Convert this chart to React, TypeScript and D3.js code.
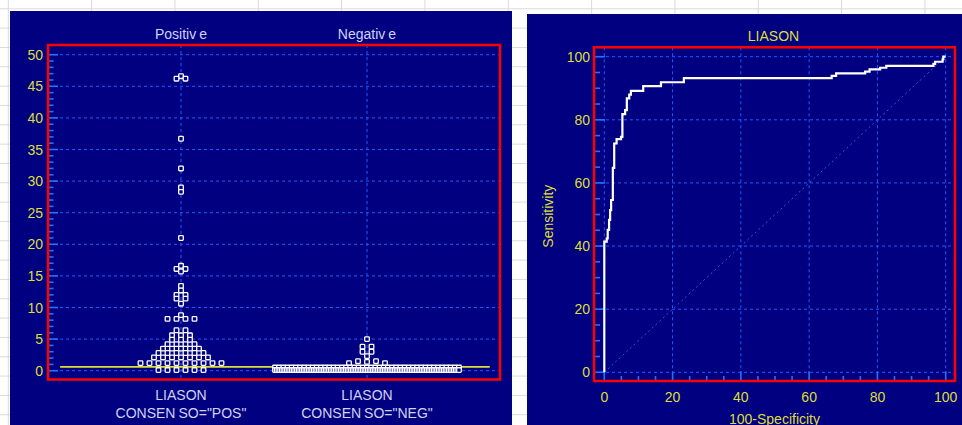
import * as d3 from 'd3'

const W = 962
const H = 425

// dot plot (left)
const groups = ['Positive', 'Negative']
const groupTests = ['LIASON', 'LIASON']
const groupCriteria = ['CONSENSO="POS"', 'CONSENSO="NEG"']
const dotTicks = [0, 5, 10, 15, 20, 25, 30, 35, 40, 45, 50]
const cutoff = 0.6

const positiveValues = [
  46.2, 46.6, 46.2, 36.7, 32.0, 29.0, 28.3, 21.0,
  16.6, 16.1, 16.1, 15.7, 13.4, 12.7, 12.0, 12.0, 11.4, 11.4, 10.6,
  8.8, 8.2, 8.2, 8.2, 8.2, 6.4, 6.4, 5.6, 5.6, 5.6, 4.9, 4.9, 4.9,
  4.2, 4.2, 4.2, 4.2, 3.5, 3.5, 3.5, 3.5, 3.5,
  2.8, 2.8, 2.8, 2.8, 2.8, 2.8, 2.1, 2.1, 2.1, 2.1, 2.1, 2.1, 2.1,
  1.2, 1.2, 1.2, 1.2, 1.2, 1.2, 1.2, 1.2, 1.2, 1.2,
  0.1, 0.1, 0.1, 0.1, 0.1, 0.1,
]

const negativeValues = [
  5.0, 3.8, 3.8, 3.0, 3.0, 2.3, 1.2, 1.5, 1.4, 1.5, 1.2,
  0.5, 0.5, 0.5, 0.5, 0.5, 0.5, 0.5, 0.5, 0.5, 0.5, 0.5, 0.5, 0.5, 0.5, 0.5,
  0.5, 0.5, 0.5, 0.5, 0.5, 0.5, 0.5, 0.5, 0.5, 0.5, 0.5, 0.5, 0.5, 0.5, 0.5,
  0.5, 0.5, 0.5, 0.5, 0.5, 0.5, 0.5, 0.5, 0.5, 0.5, 0.5, 0.5, 0.5, 0.5, 0.5,
  0.1, 0.1, 0.1, 0.1, 0.1, 0.1, 0.1, 0.1, 0.1, 0.1, 0.1, 0.1, 0.1, 0.1, 0.1,
  0.1, 0.1, 0.1, 0.1, 0.1, 0.1, 0.1, 0.1, 0.1, 0.1, 0.1, 0.1, 0.1, 0.1, 0.1,
  0.1, 0.1, 0.1, 0.1, 0.1, 0.1, 0.1, 0.1, 0.1, 0.1, 0.1, 0.1, 0.1, 0.1, 0.1,
  0.1, 0.1, 0.1, 0.1, 0.1, 0.1, 0.1, 0.1, 0.1, 0.1, 0.1, 0.1, 0.1, 0.1, 0.1,
  0.1, 0.1, 0.1, 0.1, 0.1, 0.1, 0.1, 0.1, 0.1, 0.1, 0.1, 0.1, 0.1, 0.1, 0.1,
  0.1, 0.1, 0.1, 0.1, 0.1, 0.1, 0.1, 0.1, 0.1, 0.1, 0.1, 0.1, 0.1, 0.1, 0.1,
  0.1, 0.1, 0.1, 0.1, 0.1, 0.1, 0.1, 0.1, 0.1, 0.1, 0.1, 0.1, 0.1, 0.1, 0.1,
  0.1, 0.1, 0.1, 0.1, 0.1,
]

// ROC curve (right)
const rocTitle = 'LIASON'
const rocTicks = [0, 20, 40, 60, 80, 100]
const rocFpr = [0, 0, 0.7, 1.0, 1.4, 1.7, 2.0, 2.5, 2.9, 3.6, 4.9, 5.3, 6.1, 6.6, 7.3, 7.8, 11.4, 16.6, 23.3, 66.6, 67.9, 76.4, 77.7, 80.8, 82.6, 96.4, 96.9, 99.1, 99.3, 100]
const rocTpr = [0, 41.4, 42.4, 45.1, 48.3, 51.4, 54.6, 64.8, 72.5, 73.9, 74.6, 81.8, 83.1, 86.8, 88.0, 89.2, 90.7, 91.9, 93.2, 93.9, 94.7, 95.3, 96.0, 96.5, 97.1, 97.7, 98.4, 99.2, 100, 100]

const NAVY = '#000080'
const RED = '#ff0000'
const GRID = '#1f5cff'
const TICK = '#2272ff'
const YELLOW = '#dede3a'
const LIGHT = '#d2d2f2'
const FONT = 'Liberation Sans, Arial, sans-serif'

// rows of near-equal values are spread sideways and centred, like a dot plot
function swarm(values: number[], bin: number, step: number, maxW: number) {
  const rows = new Map<number, number[]>()
  values.forEach((v, i) => {
    const b = Math.round(v / bin)
    if (!rows.has(b)) rows.set(b, [])
    rows.get(b)!.push(i)
  })
  const out = values.map((v) => ({ v, dx: 0 }))
  rows.forEach((idx) => {
    const n = idx.length
    const s = n > 1 ? Math.min(step, maxW / (n - 1)) : 0
    idx.forEach((i, k) => {
      out[i].dx = (k - (n - 1) / 2) * s
    })
  })
  return out.sort((a, b) => b.v - a.v)
}

function DotPlot() {
  const left = 48
  const right = 500
  const top = 45
  const bottom = 379.5
  const x = d3.scalePoint<string>().domain(groups).range([left, right]).padding(0.715)
  const y = d3.scaleLinear().domain([0, 50]).range([370.7, 54.7])
  const band = x.step()
  const minor = d3.range(0, 51, 1)
  const sets = [positiveValues, negativeValues].map((vals) => swarm(vals, 0.7, 9, 184))
  const lineX1 = (x(groups[0]) as number) - band * 0.65
  const lineX2 = (x(groups[1]) as number) + band * 0.66

  return (
    <g>
      <rect x={10} y={11} width={502} height={H - 11} fill={NAVY} />
      {dotTicks.map((t) => (
        <line key={'g' + t} x1={left} x2={right} y1={y(t)} y2={y(t)} stroke={GRID} strokeDasharray="3 3" strokeWidth={1} />
      ))}
      {groups.map((g) => (
        <line key={'v' + g} x1={x(g)} x2={x(g)} y1={top} y2={bottom} stroke={GRID} strokeDasharray="3 3" strokeWidth={1} />
      ))}
      {minor.map((t) => (
        <line key={'m' + t} x1={left} x2={left + (t % 5 === 0 ? 10 : 5.5)} y1={y(t)} y2={y(t)} stroke={TICK} strokeWidth={1.6} />
      ))}
      <line x1={lineX1} x2={lineX2} y1={y(cutoff)} y2={y(cutoff)} stroke={YELLOW} strokeWidth={1.6} />
      {sets.map((pts, gi) =>
        pts.map((p, i) => (
          <rect
            key={gi + '-' + i}
            x={(x(groups[gi]) as number) + p.dx - 2.3}
            y={y(p.v) - 2.3}
            width={4.6}
            height={4.6}
            rx={0.8}
            fill={NAVY}
            stroke="#ffffff"
            strokeWidth={1.3}
          />
        )),
      )}
      <rect x={left} y={top} width={right - left} height={bottom - top} fill="none" stroke={RED} strokeWidth={2.5} />
      {dotTicks.map((t) => (
        <text key={'l' + t} x={43} y={y(t) + 5} textAnchor="end" fontSize={14} fill={YELLOW}>
          {t}
        </text>
      ))}
      {groups.map((g, i) => (
        <g key={'t' + g}>
          <text x={x(g)} y={39} textAnchor="middle" fontSize={14} fill={LIGHT}>
            {g.slice(0, -1)}
            <tspan dx={3}>{g.slice(-1)}</tspan>
          </text>
          <text x={x(g)} y={400} textAnchor="middle" fontSize={14} fill={LIGHT}>
            {groupTests[i]}
          </text>
          <text x={x(g)} y={418} textAnchor="middle" fontSize={14} fill={LIGHT}>
            {groupCriteria[i].slice(0, 6)}
            <tspan dx={3}>{groupCriteria[i].slice(6)}</tspan>
          </text>
        </g>
      ))}
    </g>
  )
}

function RocPlot() {
  const left = 594
  const right = 955
  const top = 47.3
  const bottom = 381
  const x = d3.scaleLinear().domain([0, 100]).range([604.3, 945.7])
  const y = d3.scaleLinear().domain([0, 100]).range([372.3, 56.7])
  const minor = d3.range(0, 101, 5)
  const pts = rocFpr.map((f, i) => [f, rocTpr[i]] as [number, number])
  const path = d3
    .line<[number, number]>()
    .x((d) => x(d[0]))
    .y((d) => y(d[1]))
    .curve(d3.curveStepAfter)(pts)

  return (
    <g>
      <rect x={527} y={14} width={W - 527} height={H - 14} fill={NAVY} />
      {rocTicks.map((t) => (
        <g key={'g' + t}>
          <line x1={left} x2={right} y1={y(t)} y2={y(t)} stroke={GRID} strokeDasharray="3 3" strokeWidth={1} />
          <line x1={x(t)} x2={x(t)} y1={top} y2={bottom} stroke={GRID} strokeDasharray="3 3" strokeWidth={1} />
        </g>
      ))}
      {minor.map((t) => (
        <g key={'m' + t}>
          <line x1={left} x2={left + (t % 20 === 0 ? 11 : 6)} y1={y(t)} y2={y(t)} stroke={TICK} strokeWidth={1.6} />
          <line x1={x(t)} x2={x(t)} y1={bottom} y2={bottom - (t % 20 === 0 ? 9.5 : 5)} stroke={TICK} strokeWidth={1.6} />
        </g>
      ))}
      <line x1={x(0)} y1={y(0)} x2={x(100)} y2={y(100)} stroke={GRID} strokeDasharray="2 3" strokeWidth={1} />
      <path d={path ?? ''} fill="none" stroke="#ffffff" strokeWidth={2.2} />
      <rect x={left} y={top} width={right - left} height={bottom - top} fill="none" stroke={RED} strokeWidth={2.5} />
      {rocTicks.map((t) => (
        <g key={'l' + t}>
          <text x={590} y={y(t) + 5} textAnchor="end" fontSize={14} fill={YELLOW}>
            {t}
          </text>
          <text x={x(t)} y={402} textAnchor="middle" fontSize={14} fill={YELLOW}>
            {t}
          </text>
        </g>
      ))}
      <text x={(left + right) / 2 - 1} y={40.5} textAnchor="middle" fontSize={14} fill={YELLOW}>
        {rocTitle}
      </text>
      <text x={(left + right) / 2} y={424} textAnchor="middle" fontSize={14} fill={YELLOW}>
        100-Specificity
      </text>
      <text transform={`translate(553,${(top + bottom) / 2 + 2}) rotate(-90)`} textAnchor="middle" fontSize={14} fill={YELLOW}>
        Sensitivity
      </text>
    </g>
  )
}

export default function App() {
  // spreadsheet cells behind the two pasted charts
  const cols = d3.range(8.3, W, 83.33)
  const rows = d3.range(8.8, H, 19.33)
  return (
    <svg width={W} height={H} style={{ position: 'absolute', left: 0, top: 0, fontFamily: FONT }}>
      <rect width={W} height={H} fill="#ffffff" />
      {cols.map((c) => (
        <line key={'c' + c} x1={c} x2={c} y1={0} y2={H} stroke="#dadada" strokeWidth={1} />
      ))}
      {rows.map((r) => (
        <line key={'r' + r} x1={0} x2={W} y1={r} y2={r} stroke="#dadada" strokeWidth={1} />
      ))}
      <DotPlot />
      <RocPlot />
    </svg>
  )
}
